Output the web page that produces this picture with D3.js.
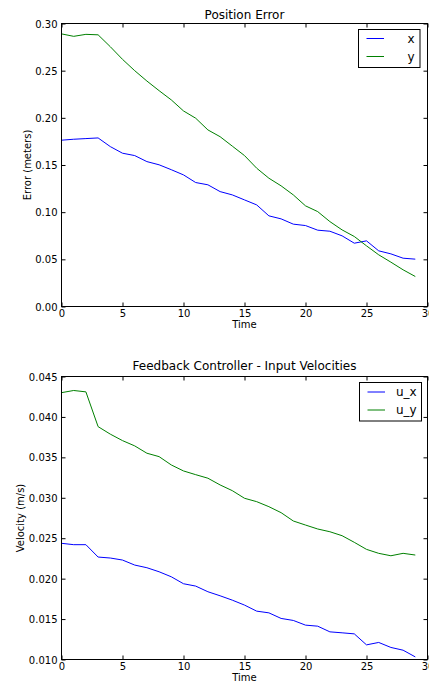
<!DOCTYPE html>
<html>
<head>
<meta charset="utf-8">
<script src="https://cdn.jsdelivr.net/npm/d3@7/dist/d3.min.js"></script>
<style>
  html, body { margin: 0; padding: 0; background: #fff; }
  svg { display: block; font-family: "DejaVu Sans", sans-serif; }
  .tick text { fill: #000; }
</style>
</head>
<body>
<svg id="fig" width="429" height="681"></svg>
<script>
// Time steps (shared x values)
const timeSteps = [0,1,2,3,4,5,6,7,8,9,10,11,12,13,14,15,16,17,18,19,20,21,22,23,24,25,26,27,28,29];

// Position error (meters)
const errorX = [0.1763,0.1773,0.1780,0.1787,0.1695,0.1625,0.1600,0.1536,0.1502,0.1450,0.1395,0.1314,0.1290,0.1218,0.1183,0.1130,0.1077,0.0961,0.0929,0.0873,0.0858,0.0809,0.0798,0.0749,0.0671,0.0696,0.0590,0.0558,0.0512,0.0502];
const errorY = [0.2890,0.2864,0.2885,0.2880,0.2754,0.2620,0.2500,0.2390,0.2288,0.2190,0.2073,0.1996,0.1872,0.1800,0.1700,0.1600,0.1466,0.1360,0.1279,0.1183,0.1067,0.1006,0.0900,0.0812,0.0742,0.0643,0.0548,0.0470,0.0389,0.0318];

// Controller input velocities (m/s)
const velocityX = [0.02437,0.02420,0.02420,0.02267,0.02255,0.02230,0.02168,0.02135,0.02085,0.02023,0.01937,0.01908,0.01838,0.01788,0.01734,0.01673,0.01598,0.01577,0.01508,0.01483,0.01425,0.01412,0.01342,0.01330,0.01317,0.01181,0.01211,0.01149,0.01115,0.01032];
const velocityY = [0.04300,0.04327,0.04310,0.03880,0.03787,0.03707,0.03642,0.03551,0.03509,0.03406,0.03332,0.03286,0.03242,0.03159,0.03088,0.02994,0.02952,0.02890,0.02816,0.02713,0.02663,0.02614,0.02580,0.02531,0.02449,0.02362,0.02313,0.02283,0.02313,0.02292];

// Tick values
const timeTicks = [0,5,10,15,20,25,30];
const errorTicks = [0.00,0.05,0.10,0.15,0.20,0.25,0.30];
const velocityTicks = [0.010,0.015,0.020,0.025,0.030,0.035,0.040,0.045];

const BLUE = "#0000ff", GREEN = "#008000";
const svg = d3.select("#fig");

function panel(opts) {
  const { left, right, top, bottom } = opts.box;
  const x = d3.scaleLinear().domain([0, 30]).range([left, right]);
  const y = d3.scaleLinear().domain(opts.yDomain).range([bottom, top]);
  const g = svg.append("g");

  // lines
  const line = d3.line().x((d, i) => x(timeSteps[i])).y(d => y(d));
  opts.series.forEach(s => {
    g.append("path").datum(s.values)
      .attr("d", line).attr("fill", "none")
      .attr("stroke", s.color).attr("stroke-width", 1);
  });

  // axes with inward ticks on all four sides
  const ax = (gen, tf) => gen.tickSizeInner(-4).tickSizeOuter(0);
  const bottomAxis = g.append("g").attr("transform", `translate(0,${bottom})`)
    .call(ax(d3.axisBottom(x)).tickValues(timeTicks).tickFormat(d3.format("d")).tickPadding(4));
  const leftAxis = g.append("g").attr("transform", `translate(${left},0)`)
    .call(ax(d3.axisLeft(y)).tickValues(opts.yTicks).tickFormat(d3.format(opts.yFormat)).tickPadding(4));
  g.append("g").attr("transform", `translate(0,${top})`)
    .call(ax(d3.axisTop(x)).tickValues(timeTicks).tickFormat(""));
  g.append("g").attr("transform", `translate(${right},0)`)
    .call(ax(d3.axisRight(y)).tickValues(opts.yTicks).tickFormat(""));
  g.selectAll(".domain").remove();
  g.selectAll(".tick line").attr("stroke", "#000");
  g.selectAll(".tick text").attr("font-size", 10).attr("font-family", "DejaVu Sans");
  bottomAxis.selectAll(".tick text").attr("dy", null).attr("y", 0)
    .attr("transform", "translate(0,10.5)");
  leftAxis.selectAll(".tick text").attr("dy", "0.36em").attr("x", -4);

  // frame
  g.append("rect").attr("x", left).attr("y", top)
    .attr("width", right - left).attr("height", bottom - top)
    .attr("fill", "none").attr("stroke", "#000").attr("stroke-width", 1);

  // title and axis labels
  g.append("text").attr("x", (left + right) / 2).attr("y", top - opts.titleGap)
    .attr("text-anchor", "middle").attr("font-size", 12).text(opts.title);
  g.append("text").attr("x", (left + right) / 2).attr("y", bottom + 21.5)
    .attr("text-anchor", "middle").attr("font-size", 10).text("Time");
  g.append("text")
    .attr("transform", `translate(${opts.yLabelX},${(top + bottom) / 2}) rotate(-90)`)
    .attr("text-anchor", "middle").attr("font-size", 10).text(opts.yLabel);

  // legend
  const L = opts.legend;
  const lg = g.append("g");
  lg.append("rect").attr("x", L.x).attr("y", L.y).attr("width", L.w).attr("height", L.h)
    .attr("fill", "#fff").attr("stroke", "#000").attr("stroke-width", 1);
  opts.series.forEach((s, i) => {
    const ly = L.y + L.firstRow + i * 18;
    lg.append("line").attr("x1", L.x + 8).attr("x2", L.x + 25.5)
      .attr("y1", ly).attr("y2", ly).attr("stroke", s.color).attr("stroke-width", 1);
    lg.append("text").attr("x", L.textX).attr("y", ly + 4.2)
      .attr("font-size", 12).text(s.label);
  });
}

panel({
  box: { left: 61.5, right: 427.5, top: 23.5, bottom: 306.5 },
  yDomain: [0, 0.30], yTicks: errorTicks, yFormat: ".2f",
  title: "Position Error", titleGap: 4.5,
  yLabel: "Error (meters)", yLabelX: 30.5,
  series: [
    { label: "x", values: errorX, color: BLUE },
    { label: "y", values: errorY, color: GREEN }
  ],
  legend: { x: 358.5, y: 29.5, w: 61.5, h: 38, firstRow: 9, textX: 407.5 }
});

panel({
  box: { left: 61.5, right: 427.5, top: 376.5, bottom: 659.5 },
  yDomain: [0.010, 0.045], yTicks: velocityTicks, yFormat: ".3f",
  title: "Feedback Controller - Input Velocities", titleGap: 6.5,
  yLabel: "Velocity (m/s)", yLabelX: 23.5,
  series: [
    { label: "u_x", values: velocityX, color: BLUE },
    { label: "u_y", values: velocityY, color: GREEN }
  ],
  legend: { x: 359.5, y: 382.5, w: 62, h: 38.5, firstRow: 9.5, textX: 396 }
});
</script>
</body>
</html>
